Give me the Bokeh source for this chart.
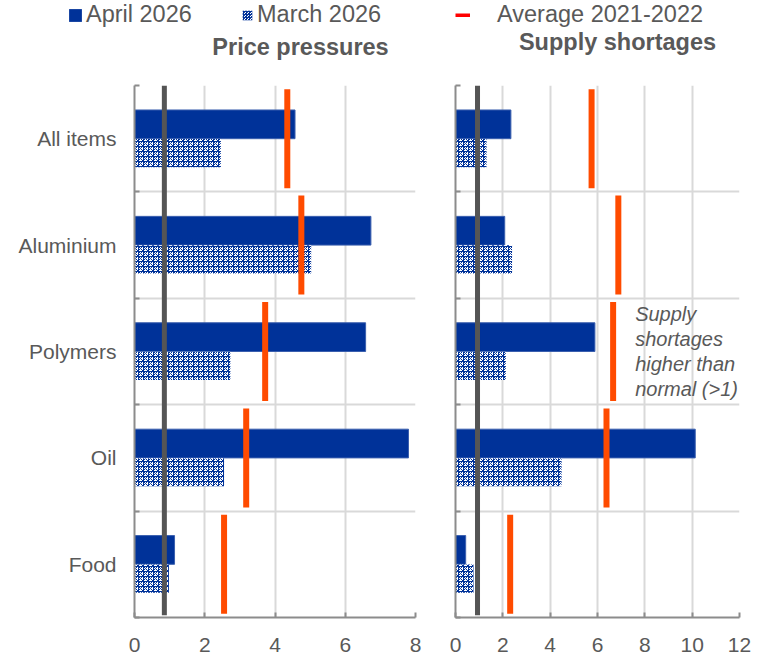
from bokeh.plotting import figure
from bokeh.layouts import column, row
from bokeh.models import (FixedTicker, Range1d, Legend, LegendItem, Label, ColumnDataSource)
from bokeh.embed import file_html
from bokeh.resources import INLINE

# ---------------- data ----------------
categories = ["All items", "Aluminium", "Polymers", "Oil", "Food"]

price_april = [4.57, 6.73, 6.58, 7.80, 1.14]
price_march = [2.46, 5.03, 2.73, 2.55, 0.98]
price_avg = [4.35, 4.75, 3.72, 3.18, 2.55]

supply_april = [2.34, 2.08, 5.89, 10.13, 0.43]
supply_march = [1.31, 2.39, 2.13, 4.48, 0.76]
supply_avg = [5.75, 6.88, 6.66, 6.38, 2.31]

price_threshold = 0.85
supply_threshold = 0.93

price_ticks = [0, 2, 4, 6, 8]
supply_ticks = [0, 2, 4, 6, 8, 10, 12]

legend_labels = ["April 2026", "March 2026", "Average 2021-2022"]
titles = ["Price pressures", "Supply shortages"]
note = "Supply\nshortages\nhigher than\nnormal (>1)"

BLUE = "#003299"
ORANGE = "#ff4b00"
RED = "#ff0000"
TXT = "#595959"
GRID = "#d9d9d9"
AXIS = "#8c8c8c"
FONT = "Liberation Sans"

n = len(categories)
centers = [n - i - 0.5 for i in range(n)]   # top to bottom
bounds = list(range(n + 1))


def panel(april, march, avg, thr, xmax, xticks, width, left_border, right_border, show_labels):
    p = figure(width=width, height=581, output_backend="svg", toolbar_location=None,
               x_range=Range1d(0, xmax), y_range=Range1d(0, n),
               min_border_left=left_border, min_border_right=right_border,
               min_border_top=7, min_border_bottom=42)
    p.outline_line_color = None
    p.background_fill_color = "white"
    p.border_fill_color = "white"

    # grids
    p.xgrid.ticker = FixedTicker(ticks=xticks)
    p.ygrid.ticker = FixedTicker(ticks=bounds)
    for g in (p.xgrid, p.ygrid):
        g.grid_line_color = GRID
        g.grid_line_width = 2

    # x axis
    p.xaxis.ticker = FixedTicker(ticks=xticks)
    p.xaxis.axis_line_color = AXIS
    p.xaxis.axis_line_width = 2
    p.xaxis.major_tick_line_color = AXIS
    p.xaxis.major_tick_line_width = 2
    p.xaxis.major_tick_in = 5
    p.xaxis.major_tick_out = 0
    p.xaxis.minor_tick_line_color = None
    p.xaxis.major_label_text_font = FONT
    p.xaxis.major_label_text_font_size = "21px"
    p.xaxis.major_label_text_color = TXT
    p.xaxis.major_label_standoff = 20

    # y axis
    if show_labels:
        p.yaxis.ticker = FixedTicker(ticks=centers, minor_ticks=bounds)
        p.yaxis.major_label_overrides = {c: lab for c, lab in zip(centers, categories)}
        p.yaxis.major_label_text_font_size = "21px"
        p.yaxis.major_label_standoff = 18
    else:
        p.yaxis.ticker = FixedTicker(ticks=[], minor_ticks=bounds)
    p.yaxis.axis_line_color = AXIS
    p.yaxis.axis_line_width = 2
    p.yaxis.major_tick_line_color = None
    p.yaxis.major_tick_in = 0
    p.yaxis.major_tick_out = 0
    p.yaxis.minor_tick_line_color = AXIS
    p.yaxis.minor_tick_line_width = 2
    p.yaxis.minor_tick_in = 5
    p.yaxis.minor_tick_out = 0
    p.yaxis.major_label_text_font = FONT
    p.yaxis.major_label_text_color = TXT

    src = ColumnDataSource(dict(
        cat=categories,
        yc=centers,
        ya=[c + 0.135 for c in centers],
        ym=[c - 0.135 for c in centers],
        april=april, march=march, avg=avg,
    ))

    p.hbar(y="ya", right="april", left=0, height=0.27, source=src,
           fill_color=BLUE, line_color="#3a5fae", line_width=1)
    p.hbar(y="ym", right="march", left=0, height=0.265, source=src,
           fill_color="white", line_color=None,
           hatch_pattern="criss_cross", hatch_color=BLUE, hatch_scale=5, hatch_weight=1.0)

    # threshold line
    p.segment(x0=[thr], x1=[thr], y0=[0.02], y1=[n], line_color="#555555", line_width=5)

    # 2021-2022 average markers
    p.rect(x="avg", y="yc", width=6, width_units="screen", height=0.93, source=src,
           fill_color=ORANGE, line_color=None)
    return p


left = panel(price_april, price_march, price_avg, price_threshold, 8, price_ticks,
             440, 134, 25, True)
right = panel(supply_april, supply_march, supply_avg, supply_threshold, 12, supply_ticks,
              321, 15, 22, False)

right.add_layout(Label(x=7.59, y=centers[2] + 0.46, text=note, text_font=FONT,
                       text_font_size="20px", text_font_style="italic", text_color=TXT,
                       text_align="left", text_baseline="top", text_line_height=1.15))

# ---------------- header (legend + titles) ----------------
hdr = figure(width=761, height=78, output_backend="svg", toolbar_location=None,
             x_range=Range1d(0, 761), y_range=Range1d(0, 78),
             min_border=0, min_border_left=0, min_border_right=0,
             min_border_top=0, min_border_bottom=0)
hdr.axis.visible = False
hdr.grid.visible = False
hdr.outline_line_color = None

r_apr = hdr.rect(x=[-100], y=[-100], width=1, height=1, fill_color=BLUE, line_color=None)
r_mar = hdr.rect(x=[-100], y=[-100], width=1, height=1, fill_color="white", line_color=None,
                 hatch_pattern="criss_cross", hatch_color=BLUE, hatch_scale=3, hatch_weight=1.0)
r_avg = hdr.line(x=[-100, -99], y=[-100, -100], line_color=RED, line_width=4)


def mk_legend(rend, label, loc, gw, gh, standoff):
    lg = Legend(items=[LegendItem(label=label, renderers=[rend])], location=loc,
                orientation="horizontal", padding=0, margin=0, border_line_color=None,
                background_fill_alpha=0, glyph_width=gw, glyph_height=gh,
                label_standoff=standoff, label_text_font=FONT, label_text_font_size="23.5px",
                label_text_color=TXT, label_height=22)
    hdr.add_layout(lg)


mk_legend(r_apr, legend_labels[0], (67, 50), 16, 16, 3)
mk_legend(r_mar, legend_labels[1], (241, 50), 12, 12, 4)
mk_legend(r_avg, legend_labels[2], (455, 50), 15, 4, 27)

hdr.add_layout(Label(x=300, y=32, text=titles[0], text_font=FONT, text_font_size="23.5px",
                     text_font_style="bold", text_color=TXT, text_align="center",
                     text_baseline="middle"))
hdr.add_layout(Label(x=617, y=37, text=titles[1], text_font=FONT, text_font_size="23.5px",
                     text_font_style="bold", text_color=TXT, text_align="center",
                     text_baseline="middle"))

layout = column(hdr, row(left, right, spacing=0), spacing=0)
open("out.html", "w").write(file_html(layout, INLINE))
